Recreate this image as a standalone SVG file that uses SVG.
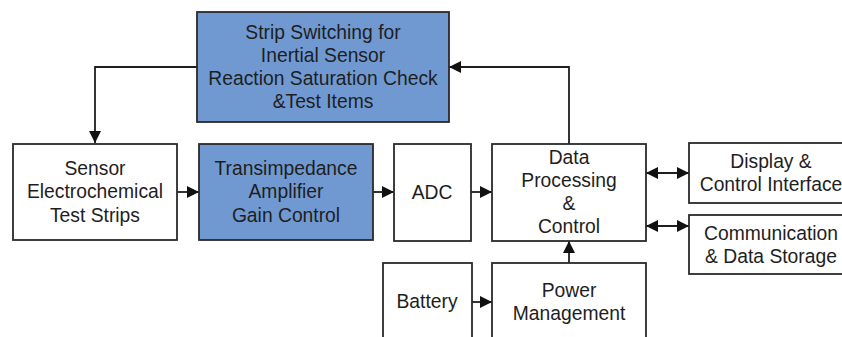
<svg xmlns="http://www.w3.org/2000/svg" width="842" height="337" viewBox="0 0 842 337">
  <defs>
    <marker id="arr" viewBox="0 0 12 12" refX="12" refY="6" markerWidth="12" markerHeight="12" markerUnits="userSpaceOnUse" orient="auto-start-reverse">
      <path d="M0,0 L12,6 L0,12 z" fill="#111"/>
    </marker>
    <style>
      .box { fill: #ffffff; stroke: #2a2a2a; stroke-width: 1.8; }
      .blue { fill: #7099d2; stroke: #2a2a2a; stroke-width: 1.8; }
      .lbl { font-family: "Liberation Sans", Arial, sans-serif; font-size: 19.3px; fill: #1e1e1e; text-anchor: middle; }
      .wire { fill: none; stroke: #1e1e1e; stroke-width: 1.8; }
    </style>
  </defs>
  <rect width="842" height="337" fill="#ffffff"/>

  <g id="connectors">
    <path class="wire" d="M197,67 H95 V143" marker-end="url(#arr)"/>
    <path class="wire" d="M177,192 H199" marker-end="url(#arr)"/>
    <path class="wire" d="M373,192 H394" marker-end="url(#arr)"/>
    <path class="wire" d="M471,192 H492" marker-end="url(#arr)"/>
    <path class="wire" d="M569,144 V67 H449" marker-end="url(#arr)"/>
    <path class="wire" d="M646,173 H689" marker-start="url(#arr)" marker-end="url(#arr)"/>
    <path class="wire" d="M646,226 H689" marker-start="url(#arr)" marker-end="url(#arr)"/>
    <path class="wire" d="M569,263 V241" marker-end="url(#arr)"/>
    <path class="wire" d="M472,302 H492" marker-end="url(#arr)"/>
  </g>

  <g id="strip-switching">
    <rect class="blue" x="197" y="12" width="252" height="110"/>
    <text class="lbl" x="323" y="39">Strip Switching for</text>
    <text class="lbl" x="323" y="62">Inertial Sensor</text>
    <text class="lbl" x="323" y="85">Reaction Saturation Check</text>
    <text class="lbl" x="323" y="108">&amp;Test Items</text>
  </g>

  <g id="sensor">
    <rect class="box" x="13" y="144" width="164" height="96"/>
    <text class="lbl" x="95" y="175">Sensor</text>
    <text class="lbl" x="95" y="198">Electrochemical</text>
    <text class="lbl" x="95" y="222">Test Strips</text>
  </g>

  <g id="tia">
    <rect class="blue" x="199" y="144" width="174" height="96"/>
    <text class="lbl" x="286" y="175">Transimpedance</text>
    <text class="lbl" x="286" y="198">Amplifier</text>
    <text class="lbl" x="286" y="222">Gain Control</text>
  </g>

  <g id="adc">
    <rect class="box" x="394" y="144" width="77" height="97"/>
    <text class="lbl" x="432" y="199">ADC</text>
  </g>

  <g id="data-processing">
    <rect class="box" x="492" y="144" width="154" height="97"/>
    <text class="lbl" x="569" y="164">Data</text>
    <text class="lbl" x="569" y="187">Processing</text>
    <text class="lbl" x="569" y="210">&amp;</text>
    <text class="lbl" x="569" y="233">Control</text>
  </g>

  <g id="display">
    <rect class="box" x="689" y="143" width="165" height="60"/>
    <text class="lbl" x="771" y="168">Display &amp;</text>
    <text class="lbl" x="771" y="191">Control Interface</text>
  </g>

  <g id="communication">
    <rect class="box" x="689" y="215" width="165" height="59"/>
    <text class="lbl" x="771" y="240">Communication</text>
    <text class="lbl" x="771" y="263">&amp; Data Storage</text>
  </g>

  <g id="battery">
    <rect class="box" x="383" y="263" width="89" height="90"/>
    <text class="lbl" x="427" y="308">Battery</text>
  </g>

  <g id="power">
    <rect class="box" x="492" y="263" width="154" height="90"/>
    <text class="lbl" x="569" y="297">Power</text>
    <text class="lbl" x="569" y="320">Management</text>
  </g>
</svg>
